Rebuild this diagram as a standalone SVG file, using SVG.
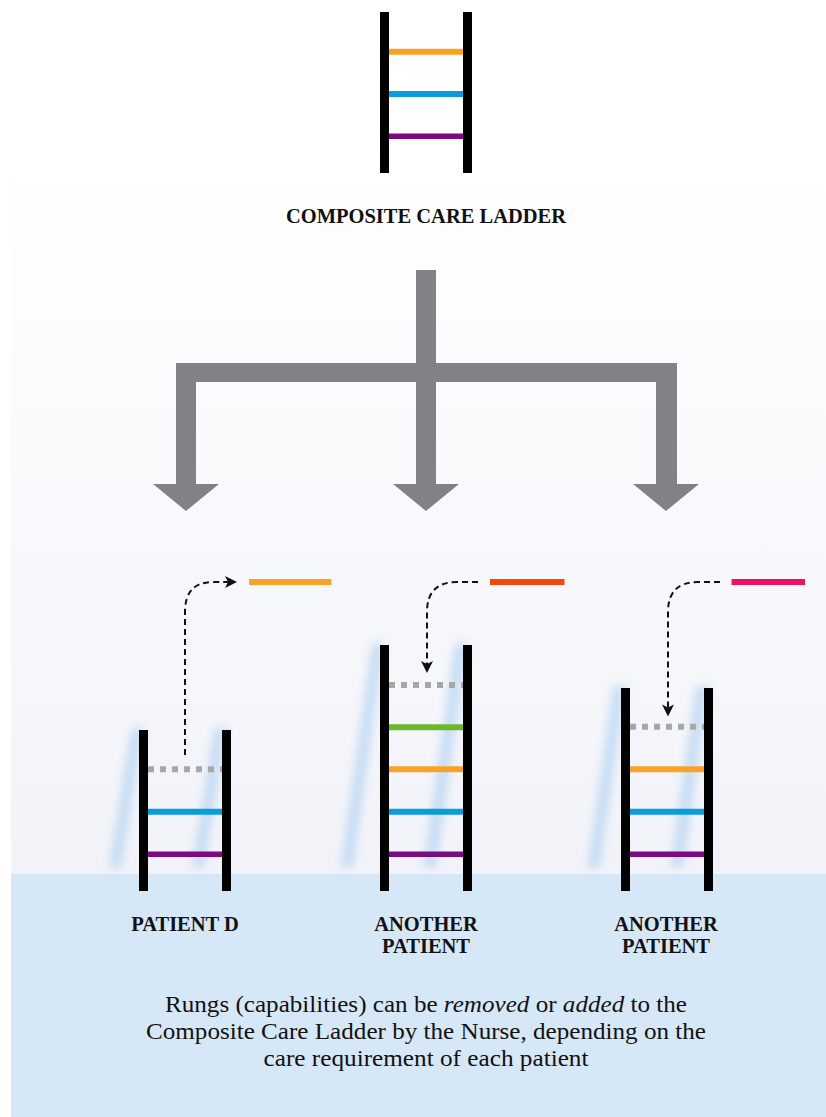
<svg xmlns="http://www.w3.org/2000/svg" width="826" height="1117" viewBox="0 0 826 1117">
  <defs>
    <linearGradient id="bg" x1="0" y1="0" x2="0" y2="1">
      <stop offset="0" stop-color="#ffffff"/>
      <stop offset="1" stop-color="#f2f3f9"/>
    </linearGradient>
    <filter id="blur" x="-100%" y="-20%" width="300%" height="140%">
      <feGaussianBlur stdDeviation="5"/>
    </filter>
    <style>
      .rail { fill: #000000; }
      .rung { stroke-width: 6; fill: none; }
      .orange { stroke: #f8a326; }
      .blue { stroke: #0a9ddc; }
      .purple { stroke: #7d0a80; stroke-width: 5.5; }
      .green { stroke: #6cb82c; }
      .gone { stroke: #a6a7a9; stroke-dasharray: 6 6; }
      .shadow { fill: #a4cbef; opacity: 0.6; filter: url(#blur); }
      .shadow-rung { stroke: #a4cbef; stroke-width: 6; opacity: 0.35; filter: url(#blur); }
      .dash { fill: none; stroke: #111111; stroke-width: 2; stroke-dasharray: 6 4; }
      .head { fill: #111111; }
    </style>
  </defs>
  <rect x="0" y="0" width="826" height="1117" fill="#ffffff"/>
  <rect x="11" y="140" width="815" height="734" fill="url(#bg)"/>
  <rect x="11" y="874" width="815" height="243" fill="#d6e7f7"/>
  <g id="composite-ladder">
    <rect class="rail" x="380" y="12" width="9" height="161"/>
    <rect class="rail" x="463" y="12" width="9" height="161"/>
    <line class="rung orange" x1="389" y1="51.7" x2="463" y2="51.7"/>
    <line class="rung blue" x1="389" y1="94" x2="463" y2="94"/>
    <line class="rung purple" x1="389" y1="136.3" x2="463" y2="136.3"/>
    <text x="426" y="223" font-family="Liberation Serif, serif" font-weight="bold" font-size="20.5" fill="#111111" text-anchor="middle">COMPOSITE CARE LADDER</text>
  </g>
  <g id="connectors">
    <path fill="#818287" d="M416,270 L436,270 L436,363 L677,363 L677,484 L699,484 L666,511 L633,484 L656,484 L656,382 L436,382 L436,484 L459,484 L426,511 L393,484 L416,484 L416,382 L196,382 L196,484 L219,484 L186,511 L153,484 L176,484 L176,363 L416,363 Z"/>
    <path class="dash" d="M185,755 L185,612 Q185,582 213,582 L228,582"/>
    <path class="head" d="M237,582 L225,576 L228,582 L225,588 Z"/>
    <path class="dash" d="M478,582 L457,582 Q427,582 427,612 L427,664"/>
    <path class="head" d="M427,673 L421,661 L427,664 L433,661 Z"/>
    <path class="dash" d="M720,582 L698,582 Q668,582 668,612 L668,708"/>
    <path class="head" d="M668,716.5 L662,704.5 L668,707.5 L674,704.5 Z"/>
  </g>
  <g id="patient-d">
    <g transform="translate(-6,730) skewX(-9) translate(0,-730)">
      <rect class="shadow" x="137" y="728" width="12" height="140"/>
      <rect class="shadow" x="220" y="728" width="12" height="140"/>
      <line class="shadow-rung" x1="148" y1="811.7" x2="222" y2="811.7"/>
      <line class="shadow-rung" x1="148" y1="854.3" x2="222" y2="854.3"/>
    </g>
    <rect class="rail" x="139" y="730" width="9" height="161"/>
    <rect class="rail" x="222" y="730" width="9" height="161"/>
    <line class="rung gone" x1="148" y1="769.3" x2="222" y2="769.3"/>
    <line class="rung blue" x1="148" y1="811.7" x2="222" y2="811.7"/>
    <line class="rung purple" x1="148" y1="854.3" x2="222" y2="854.3"/>
    <line class="rung orange" x1="249" y1="582" x2="331.5" y2="582"/>
    <text x="185" y="931" font-family="Liberation Serif, serif" font-weight="bold" font-size="20.5" fill="#111111" text-anchor="middle">PATIENT D</text>
  </g>
  <g id="patient-middle">
    <g transform="translate(-6,645) skewX(-8) translate(0,-645)">
      <rect class="shadow" x="378" y="643" width="12" height="225"/>
      <rect class="shadow" x="461" y="643" width="12" height="225"/>
      <line class="shadow-rung" x1="389" y1="727.3" x2="463" y2="727.3"/>
      <line class="shadow-rung" x1="389" y1="769.3" x2="463" y2="769.3"/>
      <line class="shadow-rung" x1="389" y1="811.7" x2="463" y2="811.7"/>
      <line class="shadow-rung" x1="389" y1="854.3" x2="463" y2="854.3"/>
    </g>
    <rect class="rail" x="380" y="645" width="9" height="246"/>
    <rect class="rail" x="463" y="645" width="9" height="246"/>
    <line class="rung gone" x1="389" y1="685" x2="463" y2="685"/>
    <line class="rung green" x1="389" y1="727.3" x2="463" y2="727.3"/>
    <line class="rung orange" x1="389" y1="769.3" x2="463" y2="769.3"/>
    <line class="rung blue" x1="389" y1="811.7" x2="463" y2="811.7"/>
    <line class="rung purple" x1="389" y1="854.3" x2="463" y2="854.3"/>
    <line class="rung" stroke="#ef4a0e" x1="490" y1="582" x2="564.5" y2="582"/>
    <text x="426" y="931" font-family="Liberation Serif, serif" font-weight="bold" font-size="20.5" fill="#111111" text-anchor="middle">ANOTHER</text>
    <text x="426" y="953" font-family="Liberation Serif, serif" font-weight="bold" font-size="20.5" fill="#111111" text-anchor="middle">PATIENT</text>
  </g>
  <g id="patient-right">
    <g transform="translate(-6,688) skewX(-8) translate(0,-688)">
      <rect class="shadow" x="619" y="686" width="12" height="182"/>
      <rect class="shadow" x="702" y="686" width="12" height="182"/>
      <line class="shadow-rung" x1="630" y1="769.3" x2="704" y2="769.3"/>
      <line class="shadow-rung" x1="630" y1="811.7" x2="704" y2="811.7"/>
      <line class="shadow-rung" x1="630" y1="854.3" x2="704" y2="854.3"/>
    </g>
    <rect class="rail" x="621" y="688" width="9" height="203"/>
    <rect class="rail" x="704" y="688" width="9" height="203"/>
    <line class="rung gone" x1="630" y1="726.7" x2="704" y2="726.7"/>
    <line class="rung orange" x1="630" y1="769.3" x2="704" y2="769.3"/>
    <line class="rung blue" x1="630" y1="811.7" x2="704" y2="811.7"/>
    <line class="rung purple" x1="630" y1="854.3" x2="704" y2="854.3"/>
    <line class="rung" stroke="#e9145f" x1="731.5" y1="582" x2="805" y2="582"/>
    <text x="666" y="931" font-family="Liberation Serif, serif" font-weight="bold" font-size="20.5" fill="#111111" text-anchor="middle">ANOTHER</text>
    <text x="666" y="953" font-family="Liberation Serif, serif" font-weight="bold" font-size="20.5" fill="#111111" text-anchor="middle">PATIENT</text>
  </g>
  <g id="caption">
    <text x="426" y="1012" font-family="Liberation Serif, serif" font-size="24" fill="#111111" text-anchor="middle" textLength="522" lengthAdjust="spacingAndGlyphs">Rungs (capabilities) can be <tspan font-style="italic">removed</tspan> or <tspan font-style="italic">added</tspan> to the</text>
    <text x="426" y="1039" font-family="Liberation Serif, serif" font-size="24" fill="#111111" text-anchor="middle" textLength="560" lengthAdjust="spacingAndGlyphs">Composite Care Ladder by the Nurse, depending on the</text>
    <text x="426" y="1066" font-family="Liberation Serif, serif" font-size="24" fill="#111111" text-anchor="middle" textLength="325" lengthAdjust="spacingAndGlyphs">care requirement of each patient</text>
  </g>
</svg>
